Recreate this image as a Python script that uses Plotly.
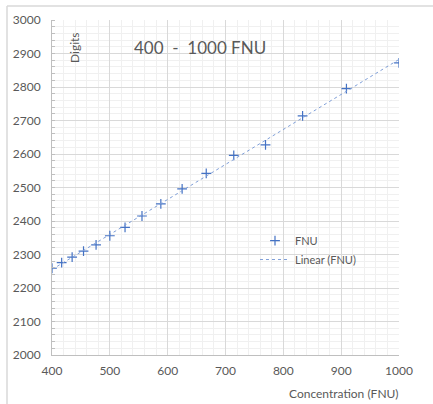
import numpy as np
import plotly.graph_objects as go

concentration = [400, 416.7, 434.8, 454.5, 476.2, 500, 526.3, 555.6, 588.2,
                 625, 666.7, 714.3, 769.2, 833.3, 909.1, 1000]
digits = [2259, 2276, 2292, 2310, 2329, 2356, 2381, 2415, 2451,
          2496, 2542, 2596, 2627, 2714, 2795, 2872]
x_ticks = [400, 500, 600, 700, 800, 900, 1000]
y_ticks = [2000, 2100, 2200, 2300, 2400, 2500, 2600, 2700, 2800, 2900, 3000]

slope, intercept = np.polyfit(concentration, digits, 1)
fit_x = [min(concentration), max(concentration)]
fit_y = [slope * v + intercept for v in fit_x]

blue = "#4472C4"
txt = "#595959"
font_family = "Lato, Open Sans, sans-serif"

fig = go.Figure()
fig.add_trace(go.Scatter(
    x=concentration, y=digits, mode="markers", name="FNU",
    marker=dict(symbol="cross-thin", size=7, line=dict(color=blue, width=1.2), color=blue),
))
fig.add_trace(go.Scatter(
    x=fit_x, y=fit_y, mode="lines", name="Linear (FNU)",
    line=dict(color="#7F9FD8", width=1, dash="dot"),
))

fig.update_layout(
    width=433, height=404,
    margin=dict(l=52, r=34, t=20, b=49),
    paper_bgcolor="white", plot_bgcolor="white",
    font=dict(family=font_family, color=txt, size=12),
    showlegend=True,
    legend=dict(x=0.585, y=0.385, xanchor="left", yanchor="top",
                bgcolor="rgba(0,0,0,0)", font=dict(size=11, color=txt),
                itemwidth=30, tracegroupgap=13),
    xaxis=dict(range=[400, 1000], tickvals=x_ticks, showgrid=True,
               gridcolor="#D9D9D9", gridwidth=1,
               minor=dict(dtick=20, showgrid=True, gridcolor="#F0F0F0", gridwidth=1),
               showline=True, linecolor="#BFBFBF", linewidth=1,
               zeroline=False, ticks="", ticklabelstandoff=5,
               tickfont=dict(size=12, color=txt)),
    yaxis=dict(range=[2000, 3000], tickvals=y_ticks, showgrid=True,
               gridcolor="#D9D9D9", gridwidth=1,
               minor=dict(dtick=20, showgrid=True, gridcolor="#F0F0F0", gridwidth=1,
                          ticks="inside", ticklen=3, tickcolor="#BFBFBF"),
               showline=True, linecolor="#BFBFBF", linewidth=1,
               zeroline=False, ticks="", ticklabelstandoff=8,
               tickfont=dict(size=12, color=txt)),
)

fig.add_annotation(text="400  -  1000 FNU", xref="paper", yref="paper",
                   x=(200 - 52) / 347, y=1 - (47 - 20) / 335, showarrow=False,
                   xanchor="center", yanchor="middle",
                   font=dict(size=17, color=txt))
fig.add_annotation(text="Digits", xref="paper", yref="paper",
                   x=(75 - 52) / 347, y=1 - (48 - 20) / 335, showarrow=False,
                   xanchor="center", yanchor="middle",
                   textangle=-90, font=dict(size=12, color=txt))
fig.add_annotation(text="Concentration (FNU)", xref="paper", yref="paper",
                   x=(344 - 52) / 347, y=-(393 - 355) / 335, showarrow=False,
                   xanchor="center", yanchor="middle",
                   font=dict(size=12, color=txt))

# outer chart frame (partially visible)
fx0 = (7 - 52) / 347
fy0 = 1 + (20 - 6) / 335
fig.add_shape(type="line", xref="paper", yref="paper",
              x0=fx0, x1=fx0, y0=fy0, y1=-(404 - 355) / 335 - 0.01,
              line=dict(color="#D9D9D9", width=1.5))
fig.add_shape(type="line", xref="paper", yref="paper",
              x0=fx0, x1=1 + 40 / 347, y0=fy0, y1=fy0,
              line=dict(color="#D9D9D9", width=1.5))

fig.write_html("out.html", config={"displayModeBar": False},
               post_script="document.body.style.margin='0';document.body.style.overflow='hidden';")
